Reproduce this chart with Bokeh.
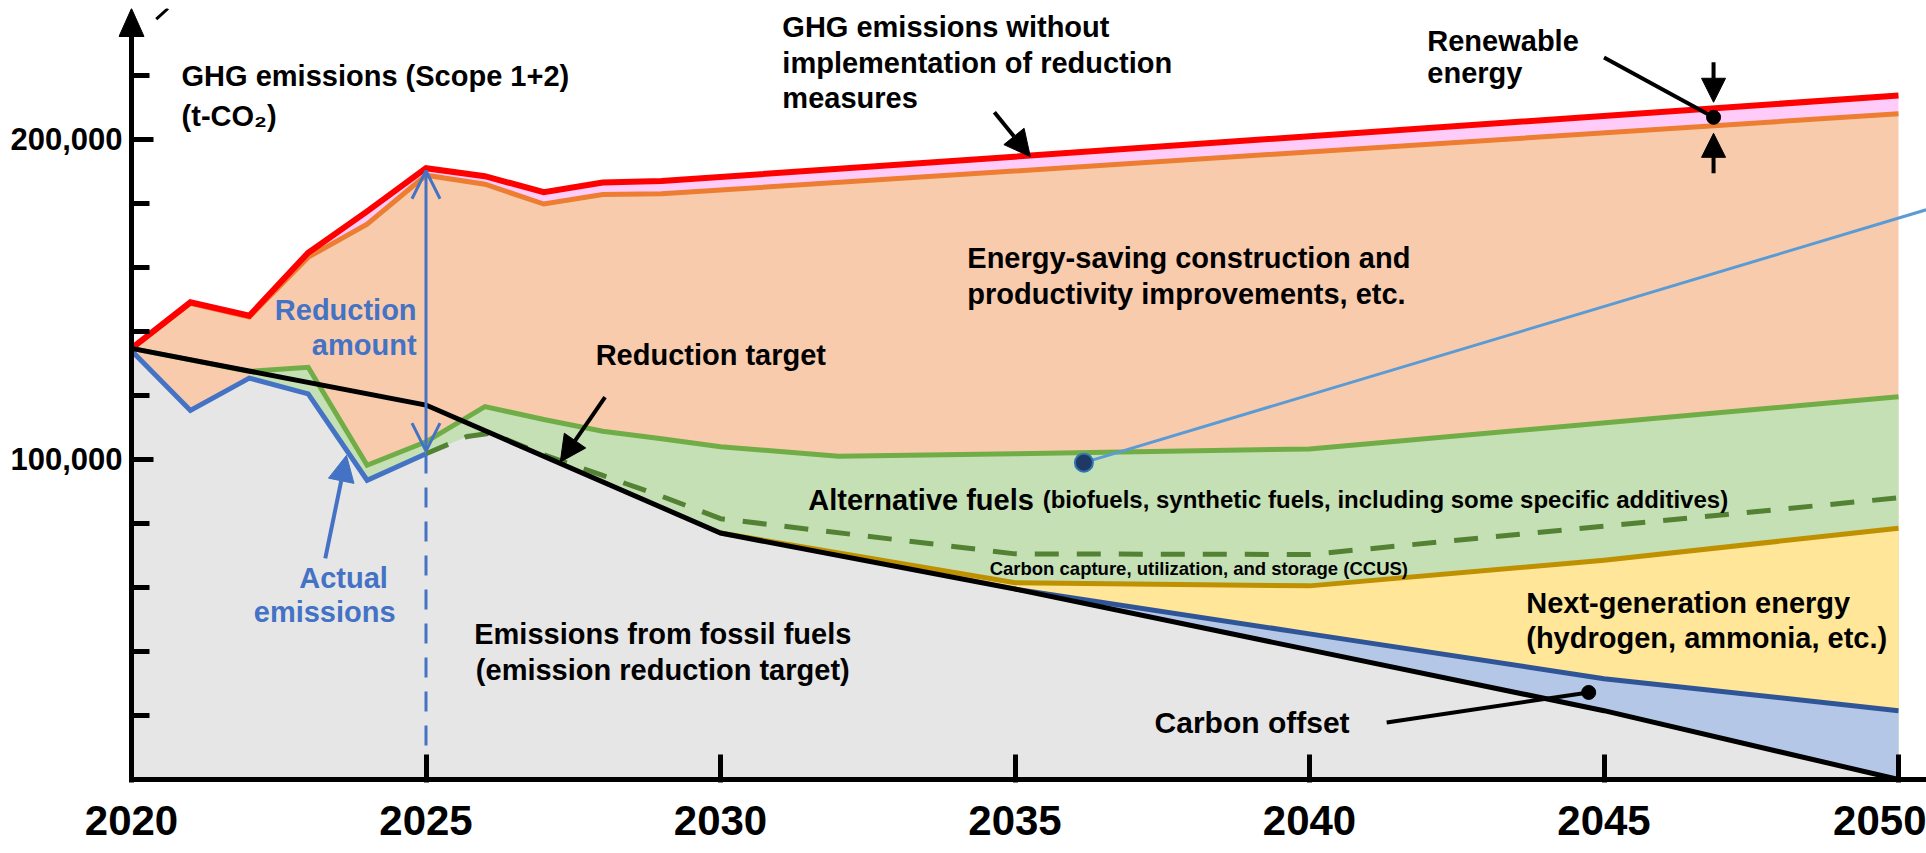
from bokeh.plotting import figure
from bokeh.models import Range1d, FixedTicker, Arrow, NormalHead, OpenHead, ColumnDataSource
from bokeh.core.properties import value
from bokeh.embed import file_html
from bokeh.resources import INLINE

# ---------------- data (t-CO2) ----------------
x_ticks = [2020, 2025, 2030, 2035, 2040, 2045, 2050]
y_ticks = [100000, 200000]
y_tick_labels = ["100,000", "200,000"]
y_minor = [20000, 40000, 60000, 80000, 120000, 140000, 160000, 180000, 220000]

years_bau = [2020, 2021, 2022, 2023, 2024, 2025, 2026, 2027, 2028, 2029, 2050]
bau_without = [134700, 149100, 144900, 164600, 177500, 191000, 188500, 183500, 186500, 187000, 213700]
bau_with_renewable = [134700, 148800, 144500, 163200, 173500, 188800, 186000, 179800, 182800, 183000, 208000]

years_actual = [2020, 2021, 2022, 2023, 2024, 2025]
actual = [134000, 115300, 125400, 120500, 93500, 101800]

years_alt = [2020, 2021, 2022, 2023, 2024, 2025, 2026, 2027, 2028, 2029, 2030, 2032, 2035, 2040, 2050]
alt_fuel_top = [134700, 131100, 127500, 128800, 98200, 105500, 116500, 112500, 108800, 106500, 104000, 101000, 101800, 103300, 119600]

years_ccus = [2025, 2025.7, 2026.1, 2027, 2028, 2029, 2030, 2035, 2040, 2050]
ccus_top = [101800, 107200, 108200, 101500, 95000, 88500, 81500, 70500, 70300, 88000]

years_target = [2020, 2025, 2030, 2035, 2040, 2045, 2050]
target = [134700, 117000, 77000, 59500, 40500, 21500, 0]

years_next = [2030, 2035, 2040, 2045, 2050]
next_gen_top = [77000, 61500, 60500, 68500, 78500]
offset_top = [77000, 59500, 45500, 31500, 21500]

years_fossil = [2025, 2025.7, 2026.1, 2027, 2030, 2035, 2040, 2045, 2050]
fossil = [101800, 107200, 108200, 101000, 77000, 59500, 40500, 21500, 0]

# colours
C_RED = "#FF0000"; C_ORANGE = "#ED7D31"; C_PINK = "#FFCCFA"; C_PEACH = "#F8CBAD"
C_GREEN = "#70AD47"; C_LGREEN = "#C5E0B4"; C_DGREEN = "#548235"; C_GOLD = "#BF9000"
C_YELLOW = "#FFE699"; C_DBLUE = "#2F5597"; C_LBLUE = "#B4C7E7"; C_GREY = "#E6E6E6"
C_BLUE = "#4472C4"; C_CALLOUT = "#5B9BD5"
FONT = "Liberation Sans"

PX_PER_YEAR = 58.9          # horizontal scale
T_PER_PX = 312.5            # vertical scale (t-CO2 per pixel)
X0 = 2020 - 13 / PX_PER_YEAR
X1 = X0 + 1808 / PX_PER_YEAR
Y0 = -3 * T_PER_PX
Y1 = 240900

p = figure(frame_width=1808, frame_height=774,
           x_range=Range1d(X0, X1), y_range=Range1d(Y0, Y1),
           min_border_left=118, min_border_right=0, min_border_top=8, min_border_bottom=71,
           output_backend="svg", toolbar_location=None)
p.grid.visible = False
p.outline_line_color = None
p.background_fill_color = "white"
p.border_fill_color = "white"

# ---------------- axes (labels from Bokeh axes, lines drawn below) ----------------
xa = p.xaxis[0]
xa.ticker = FixedTicker(ticks=x_ticks, minor_ticks=[])
xa.axis_line_color = None
xa.major_tick_in = 28
xa.major_tick_out = 0
xa.major_tick_line_width = 5
xa.major_label_standoff = 23
xa.major_label_text_font = FONT
xa.major_label_text_font_style = "bold"
xa.major_label_text_font_size = "42px"
xa.major_label_text_color = "black"

ya = p.yaxis[0]
ya.ticker = FixedTicker(ticks=y_ticks, minor_ticks=y_minor)
ya.major_label_overrides = dict(zip(y_ticks, y_tick_labels))
ya.axis_line_color = None
ya.major_tick_line_color = None
ya.minor_tick_line_color = None
ya.major_tick_in = 0
ya.major_tick_out = 0
ya.minor_tick_in = 0
ya.minor_tick_out = 0
ya.major_label_standoff = -4
ya.major_label_text_font = FONT
ya.major_label_text_font_style = "bold"
ya.major_label_text_font_size = "31px"
ya.major_label_text_color = "black"

# ---------------- fills ----------------
p.varea(x=years_bau, y1=bau_with_renewable, y2=bau_without, fill_color=C_PINK)
p.varea(x=years_bau, y1=[0] * len(years_bau), y2=bau_with_renewable, fill_color=C_PEACH)
p.varea(x=years_actual[2:], y1=actual[2:], y2=alt_fuel_top[2:6], fill_color=C_LGREEN)
p.varea(x=years_alt[5:], y1=[0] * len(years_alt[5:]), y2=alt_fuel_top[5:], fill_color=C_LGREEN)
p.varea(x=years_actual, y1=[0] * len(years_actual), y2=actual, fill_color=C_GREY)
p.varea(x=years_fossil, y1=[0] * len(years_fossil), y2=fossil, fill_color=C_GREY)
p.varea(x=years_next, y1=offset_top, y2=next_gen_top, fill_color=C_YELLOW)
p.varea(x=years_next[1:], y1=target[3:], y2=offset_top[1:], fill_color=C_LBLUE)

# ---------------- lines ----------------
p.line(years_bau, bau_with_renewable, line_color=C_ORANGE, line_width=5, line_join="miter")
p.line(years_bau, bau_without, line_color=C_RED, line_width=6, line_join="miter")
p.line(years_alt, alt_fuel_top, line_color=C_GREEN, line_width=5, line_join="miter")
p.line(years_ccus, ccus_top, line_color=C_DGREEN, line_width=5, line_dash="24 18")
p.line(years_next, next_gen_top, line_color=C_GOLD, line_width=5, line_join="miter")
p.line(years_next[1:], offset_top[1:], line_color=C_DBLUE, line_width=5, line_join="miter")
p.line(years_actual, actual, line_color=C_BLUE, line_width=5, line_join="miter")
p.line(years_target, target, line_color="black", line_width=5, line_join="miter")

# vertical dashed line at 2025 and reduction-amount double arrow
p.line([2025, 2025], [0, actual[-1]], line_color=C_BLUE, line_width=3, line_dash="20 14")
p.add_layout(Arrow(start=OpenHead(size=28, line_color=C_BLUE, line_width=3),
                   end=OpenHead(size=28, line_color=C_BLUE, line_width=3),
                   x_start=2025, y_start=actual[-1] + 800, x_end=2025, y_end=bau_without[5] - 800,
                   line_color=C_BLUE, line_width=3))

# ---------------- callouts ----------------
alt_call_x = [2036.17, 2050.47]
alt_call_y = [99000, 178000]
p.line(alt_call_x, alt_call_y, line_color=C_CALLOUT, line_width=3)
p.scatter([alt_call_x[0]], [alt_call_y[0]], size=18, fill_color="#1F3864", line_color="#2E75B6", line_width=2)

ren_x = [2045.0, 2046.86]
ren_y = [225600, 206900]
p.line(ren_x, ren_y, line_color="black", line_width=4)
p.scatter([ren_x[1]], [ren_y[1]], size=14, fill_color="black", line_color="black")
p.add_layout(Arrow(end=NormalHead(size=24, fill_color="black", line_color="black"),
                   x_start=ren_x[1], y_start=224100, x_end=ren_x[1], y_end=211600,
                   line_color="black", line_width=4))
p.add_layout(Arrow(end=NormalHead(size=24, fill_color="black", line_color="black"),
                   x_start=ren_x[1], y_start=189400, x_end=ren_x[1], y_end=201900,
                   line_color="black", line_width=4))

off_x = [2041.31, 2044.74]
off_y = [17800, 27200]
p.line(off_x, off_y, line_color="black", line_width=4)
p.scatter([off_x[1]], [off_y[1]], size=14, fill_color="black", line_color="black")

p.add_layout(Arrow(end=NormalHead(size=26, fill_color="black", line_color="black"),
                   x_start=2034.65, y_start=208500, x_end=2035.26, y_end=194600,
                   line_color="black", line_width=4))
p.add_layout(Arrow(end=NormalHead(size=26, fill_color="black", line_color="black"),
                   x_start=2028.04, y_start=119500, x_end=2027.28, y_end=99200,
                   line_color="black", line_width=4))
p.add_layout(Arrow(end=NormalHead(size=26, fill_color=C_BLUE, line_color=C_BLUE),
                   x_start=2023.29, y_start=69100, x_end=2023.65, y_end=101300,
                   line_color=C_BLUE, line_width=4))

# ---------------- axis lines, y ticks and y-axis arrow head ----------------
axis_x = [2020, 2020, X1]
axis_y = [234000, 0, 0]
p.line(axis_x, axis_y, line_color="black", line_width=5, line_join="miter")
major_len = 22 / PX_PER_YEAR
minor_len = 18 / PX_PER_YEAR
p.segment(x0=[2020] * len(y_ticks), y0=y_ticks, x1=[2020 + major_len] * len(y_ticks), y1=y_ticks,
          line_color="black", line_width=5)
p.segment(x0=[2020] * len(y_minor), y0=y_minor, x1=[2020 + minor_len] * len(y_minor), y1=y_minor,
          line_color="black", line_width=5)
head_half = 12.5 / PX_PER_YEAR
p.patch([2020 - head_half, 2020, 2020 + head_half], [Y1 - 28 * T_PER_PX, Y1, Y1 - 28 * T_PER_PX],
        fill_color="black", line_color="black")
# fragment at top-left
p.line([2020.42, 2020.62], [237600, 240900], line_color="black", line_width=3)

# ---------------- texts ----------------
def add_texts(xs, ys, texts, size, color="black", align="left", baseline="middle"):
    src = ColumnDataSource(dict(x=xs, y=ys, text=texts))
    p.text(x="x", y="y", text="text", source=src,
           text_font=value(FONT), text_font_style="bold", text_font_size=value(size),
           text_color=color, text_align=align, text_baseline=baseline)

add_texts([2020.85, 2020.85], [219800, 207200], ["GHG emissions (Scope 1+2)", "(t-CO\u2082)"], "29px")
add_texts([2031.05, 2031.05, 2031.05], [235000, 223750, 212800],
          ["GHG emissions without", "implementation of reduction", "measures"], "29px")
add_texts([2042.0, 2042.0], [230900, 220900], ["Renewable", "energy"], "29px")
add_texts([2034.19, 2034.19], [162800, 151600],
          ["Energy-saving construction and", "productivity improvements, etc."], "29px")
add_texts([2027.88], [132500], ["Reduction target"], "29px")
add_texts([2024.84, 2024.84], [146600, 135900], ["Reduction", "amount"], "29px", color=C_BLUE, align="right")
add_texts([2023.60, 2023.28], [63100, 52200], ["Actual", "emissions"], "29px", color=C_BLUE, align="center")
add_texts([2031.49], [87200], ["Alternative fuels"], "29px", baseline="alphabetic")
add_texts([2035.47], [87600], ["(biofuels, synthetic fuels, including some specific additives)"], "24px",
          baseline="alphabetic")
add_texts([2034.57], [65900], ["Carbon capture, utilization, and storage (CCUS)"], "18.5px")
add_texts([2043.68, 2043.68], [55000, 44100], ["Next-generation energy", "(hydrogen, ammonia, etc.)"], "29px")
add_texts([2029.02, 2029.02], [45600, 34100],
          ["Emissions from fossil fuels", "(emission reduction target)"], "29px", align="center")
add_texts([2037.37], [17800], ["Carbon offset"], "30px")

open("out.html", "w").write(file_html(p, INLINE))
